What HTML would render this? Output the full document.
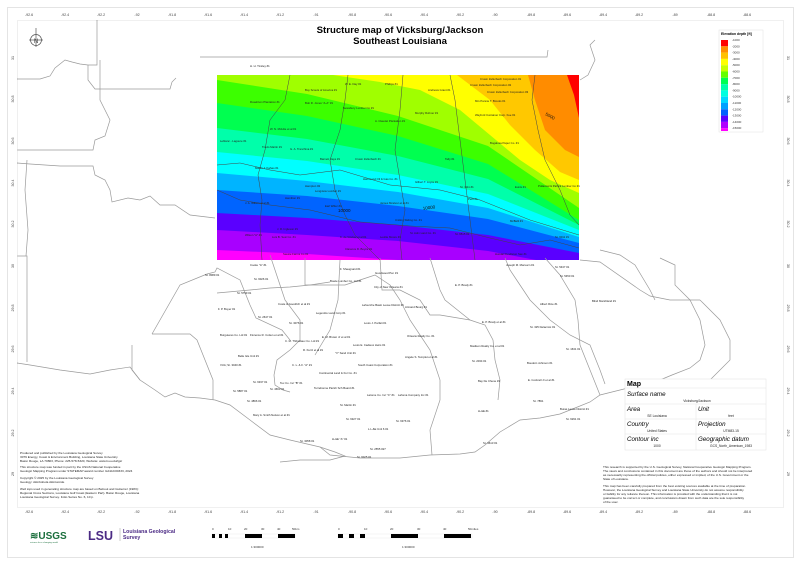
<!DOCTYPE html>
<html><head><meta charset="utf-8"><style>
html,body{margin:0;padding:0;background:#fff;}
svg text{font-family:"Liberation Sans",sans-serif;}
</style></head><body>
<svg width="800" height="565" viewBox="0 0 800 565" xmlns="http://www.w3.org/2000/svg">
<rect x="0" y="0" width="800" height="565" fill="#fff"/>
<rect x="7.5" y="7.5" width="786" height="550" fill="none" stroke="#e4e4e4" stroke-width="1"/>
<rect x="17.5" y="20.5" width="766" height="487" fill="none" stroke="#d8d8d8" stroke-width="0.8" stroke-dasharray="1,1"/>

<defs><clipPath id="cr"><rect x="217" y="75" width="362" height="185"/></clipPath></defs>
<g clip-path="url(#cr)">
<rect x="217" y="75" width="362" height="185" fill="#ff00ff"/>
<polygon fill="#a800ff" points="217,250 307,254 398,260 488,269 579,285 579,75 217,75"/>
<polygon fill="#5a00ff" points="217,230 307,235 398,241 488,251 579,268 579,75 217,75"/>
<polygon fill="#0064ff" points="217,213 307,218 398,225 488,235 579,253 579,75 217,75"/>
<polygon fill="#00b4ff" points="217,190 307,196 398,206 488,219 579,243 579,75 217,75"/>
<polygon fill="#00ffff" points="217,173 307,181 398,192 488,208 579,237 579,75 217,75"/>
<polygon fill="#00ffaa" points="217,152 307,161 398,175 488,194 579,230 579,75 217,75"/>
<polygon fill="#00ff50" points="217,128 307,139 398,156 488,179 579,225 579,75 217,75"/>
<polygon fill="#3cff00" points="217,103 307,116 398,136 488,164 579,220 579,75 217,75"/>
<polygon fill="#a0ff00" points="217,80 307,94 398,116 488,146 579,208 579,75 217,75"/>
<polygon fill="#ffff00" points="333,75 380,82 420,90 460,110 490,135 520,160 550,180 579,193 579,75"/>
<polygon fill="#ffc800" points="457,75 490,100 510,125 535,150 560,172 579,180 579,75"/>
<polygon fill="#ff8c00" points="528,75 535,100 545,130 565,150 579,157 579,75"/>
<polygon fill="#ff0000" points="567,75 574,95 579,118 579,75"/>
</g>

<g fill="none" stroke="#9a9a9a" stroke-width="0.7">
<polyline points="17,79 40,79 50,76 55,68 65,60 72,62 80,64 88,65 97,65 97,20"/>
<polyline points="88,65 88,80 95,89 170,89 172,82 176,78"/>
<polyline points="200,57 547,57 548,50"/>
<polyline points="17,163 30,164 60,166 93,166 95,175 105,180 110,190 112,202 128,198 140,200 150,196 160,205 175,205 190,215 215,218"/>
<polyline points="17,150 30,150 93,150 95,140 105,136 110,120 100,100 100,60"/>
<polyline points="27,160 25,190 28,230 26,256"/>
<polyline points="17,256 27,256 27,362"/>
<polyline points="17,363 30,365 60,370 90,374 110,370 130,367 140,380 155,390 165,397 175,393 185,397 200,398 215,400 230,405 250,420 270,435 290,440 320,447 335,452 345,456 330,460 300,460 280,462"/>
<polyline points="320,447 330,455 360,458 400,458 430,455 460,454 475,452 485,445 500,432 520,420 540,418 560,414 575,408 590,402 600,395 620,390 640,385 660,380 672,375 690,368 700,360 705,345 700,320 690,300 680,290 675,285 675,265 660,258"/>
<polyline points="217,293 250,290 270,288 290,287 310,285 330,282"/>
<polyline points="207,274 215,272 217,268 240,280 250,305 256,318 282,330 290,340"/>
<polyline points="152,334 190,334 197,340 213,380 213,400"/>
<polyline points="152,334 180,285 207,274"/>
<polyline points="132,345 132,370 140,380"/>
<polyline points="270,255 275,270 280,285 285,300 300,320 300,340 290,350 277,360 274,375 275,385 283,390 290,392"/>
<polyline points="305,258 305,285 345,285 360,280 375,275 390,285 400,300 410,320 430,350 440,380 440,400 430,430 432,455"/>
<polyline points="340,260 338,300 330,330 315,355"/>
<polyline points="380,258 382,290 400,290 420,300 430,315 440,315 470,320"/>
<polyline points="470,320 485,325 493,340 495,360 500,380 498,400"/>
<polyline points="430,258 440,290 445,300 470,320"/>
<polyline points="505,258 510,270 520,285 530,300 550,320 570,335 590,345 600,370 605,384"/>
<polyline points="545,258 560,275 575,300 578,320 580,345 590,370 600,395"/>
<polyline points="580,260 600,262 640,290 650,296 670,300 700,300"/>
<polyline points="600,250 620,255 635,265 650,290 655,300"/>
<polyline points="580,80 588,75 595,60 590,45 595,40"/>
<polyline points="700,300 720,320 730,340 730,360 720,370 710,380 700,390"/>
</g>
<g fill="none" stroke="#444" stroke-width="0.5" clip-path="url(#cr)">
<polyline points="290,75 285,100 270,120 265,150 258,175 262,200 260,225 262,260"/>
<polyline points="348,75 345,100 340,130 330,160 335,190 345,215 355,235 370,250 380,260"/>
<polyline points="403,75 400,110 395,150 400,180 405,210 400,240 402,260"/>
<polyline points="450,75 455,100 460,140 465,180 470,220 475,260"/>
<polyline points="535,75 532,100 538,130 545,160 560,190 570,215 579,225"/>
<polyline points="217,165 240,163 270,170 300,175 340,170 390,185 440,190 480,200 530,220 579,235"/>
<polyline points="217,190 240,200 270,205 310,210 360,222 410,226 450,228 490,238 520,245 550,240 579,248"/>
</g>

<text x="400" y="33" font-size="9.6" font-weight="bold" text-anchor="middle">Structure map of Vicksburg/Jackson</text>
<text x="400" y="44" font-size="9.6" font-weight="bold" text-anchor="middle">Southeast Louisiana</text>

<g stroke="#555" fill="none" stroke-width="0.7"><circle cx="36" cy="40" r="5.5"/><line x1="36" y1="28" x2="36" y2="47"/><line x1="29" y1="40" x2="43" y2="40"/></g>
<text x="36" y="43" font-size="6" text-anchor="middle" fill="#333">N</text>

<g font-size="3.6" fill="#444" text-anchor="middle">
<text x="29" y="16">-92.6</text><text x="65" y="16">-92.4</text><text x="101" y="16">-92.2</text><text x="137" y="16">-92</text><text x="172" y="16">-91.8</text><text x="208" y="16">-91.6</text><text x="244" y="16">-91.4</text><text x="280" y="16">-91.2</text><text x="316" y="16">-91</text><text x="352" y="16">-90.8</text><text x="388" y="16">-90.6</text><text x="424" y="16">-90.4</text><text x="460" y="16">-90.2</text><text x="495" y="16">-90</text><text x="531" y="16">-89.8</text><text x="567" y="16">-89.6</text><text x="603" y="16">-89.4</text><text x="639" y="16">-89.2</text><text x="675" y="16">-89</text><text x="711" y="16">-88.8</text><text x="747" y="16">-88.6</text>
<text x="29" y="513">-92.6</text><text x="65" y="513">-92.4</text><text x="101" y="513">-92.2</text><text x="137" y="513">-92</text><text x="172" y="513">-91.8</text><text x="208" y="513">-91.6</text><text x="244" y="513">-91.4</text><text x="280" y="513">-91.2</text><text x="316" y="513">-91</text><text x="352" y="513">-90.8</text><text x="388" y="513">-90.6</text><text x="424" y="513">-90.4</text><text x="460" y="513">-90.2</text><text x="495" y="513">-90</text><text x="531" y="513">-89.8</text><text x="567" y="513">-89.6</text><text x="603" y="513">-89.4</text><text x="639" y="513">-89.2</text><text x="675" y="513">-89</text><text x="711" y="513">-88.8</text><text x="747" y="513">-88.6</text>
</g>
<g font-size="3.6" fill="#444" text-anchor="middle">
<text transform="translate(14,58) rotate(-90)">31</text><text transform="translate(14,99) rotate(-90)">30.8</text><text transform="translate(14,141) rotate(-90)">30.6</text><text transform="translate(14,183) rotate(-90)">30.4</text><text transform="translate(14,224) rotate(-90)">30.2</text><text transform="translate(14,266) rotate(-90)">30</text><text transform="translate(14,308) rotate(-90)">29.8</text><text transform="translate(14,349) rotate(-90)">29.6</text><text transform="translate(14,391) rotate(-90)">29.4</text><text transform="translate(14,433) rotate(-90)">29.2</text><text transform="translate(14,474) rotate(-90)">29</text>
<text transform="translate(787,58) rotate(90)">31</text><text transform="translate(787,99) rotate(90)">30.8</text><text transform="translate(787,141) rotate(90)">30.6</text><text transform="translate(787,183) rotate(90)">30.4</text><text transform="translate(787,224) rotate(90)">30.2</text><text transform="translate(787,266) rotate(90)">30</text><text transform="translate(787,308) rotate(90)">29.8</text><text transform="translate(787,349) rotate(90)">29.6</text><text transform="translate(787,391) rotate(90)">29.4</text><text transform="translate(787,433) rotate(90)">29.2</text><text transform="translate(787,474) rotate(90)">29</text>
</g>

<g font-size="2.8" fill="#222">
<text x="250" y="67">H. H. Tinsley #1</text><text x="305" y="91">Boy Scouts of America #1</text><text x="345" y="85">W. E. Day #1</text><text x="385" y="85">Phillips #1</text><text x="480" y="80">Crown Zellerbach Corporation #1</text><text x="470" y="86">Crown Zellerbach Corporation #2</text><text x="487" y="93">Crown Zellerbach Corporation #3</text>
<text x="250" y="103">Roseblum Plantation #1</text><text x="305" y="104">Bob R. Jones "A-A" #1</text><text x="343" y="109">Newsbury Lumber Co #1</text><text x="428" y="91">Andrews Grant #1</text><text x="475" y="102">Mrs Pannie T. Brooks #1</text><text x="475" y="116">Wayford Container Corp. Fee #1</text>
<text x="375" y="122">A. Claudet Plantation #1</text><text x="415" y="114">Murphy Rohner #1</text><text x="270" y="130">W. N. McHite et al #1</text><text x="220" y="142">Leblanc - Lagoure #1</text><text x="262" y="148">Travis Martin #1</text><text x="290" y="150">G. A. Tranchina #1</text>
<text x="320" y="160">Barnett Hays #1</text><text x="355" y="160">Crown Zellerbach #1</text><text x="445" y="160">Tally #1</text><text x="490" y="144">Bogalusa Paper Co. #1</text><text x="255" y="169">Martin J. Kahao #1</text><text x="363" y="180">Hammond Oil &amp; Gas Co. #1</text><text x="415" y="183">Gilbert T. Joyce #1</text>
<text x="305" y="187">Hampton #2</text><text x="315" y="192">Longview Lumber #1</text><text x="460" y="188">St. 1111 #1</text><text x="515" y="188">Eunis #1</text><text x="538" y="187">Pollacoal &amp; Patrick Lumber Co #1</text><text x="285" y="199">Hamilton #1</text><text x="468" y="200">Peth #1</text>
<text x="245" y="204">J. A. Wilson et al #1</text><text x="325" y="207">Earl Wilier #1</text><text x="380" y="204">James Mcelver et al #1</text><text x="395" y="221">Uniting Sliding Co. #1</text><text x="510" y="222">McBelli #1</text><text x="277" y="230">J. R. Ingleson #1</text><text x="410" y="234">St. Adm Land Co. #1</text><text x="455" y="235">St. 6515 #1</text>
<text x="245" y="236">Wilson "A" #1</text><text x="272" y="238">Luis B. Sesi Co. #1</text><text x="340" y="238">K. de Vindow et al #1</text><text x="380" y="238">Leolite Moore #1</text><text x="345" y="250">Clarence D. Boyce #1</text><text x="283" y="255">Sassie Farms Co #1</text><text x="495" y="255">Hundal Pendleton Sav #1</text><text x="555" y="238">St. 6011 #1</text>
<text x="250" y="266">Cooke "A" #1</text><text x="340" y="270">F. Shaugnard #1</text><text x="375" y="274">Goodwood Par. #1</text><text x="506" y="266">Joseph M. Marsucn #1</text><text x="555" y="268">St. 5437 #1</text><text x="205" y="276">St. 8089 #1</text><text x="254" y="280">St. 6026 #1</text><text x="330" y="282">Bowie Lumber Co. Ltd #1</text><text x="374" y="288">City of New Orleans #1</text><text x="455" y="286">E. P. Brady #1</text><text x="560" y="277">St. 5450 #1</text>
<text x="237" y="294">St. 5759 #1</text><text x="278" y="305">Coste &amp; Goodrich et al #1</text><text x="362" y="306">Lafourche Basin Levee District #1</text><text x="405" y="308">Armand Bourg #1</text><text x="540" y="305">Albert Rice #1</text><text x="592" y="302">Blind Marshland #1</text><text x="218" y="310">F. P. Boyer #1</text><text x="316" y="314">Legendre Land Corp #1</text>
<text x="258" y="318">St. 2647 #1</text><text x="289" y="324">St. 3076 #1</text><text x="364" y="324">Louis J. Parfait #1</text><text x="482" y="323">E. P. Brady et al #1</text><text x="530" y="328">St. 325 Delacroix #1</text><text x="220" y="336">Burguieres Co. Ltd #1</text><text x="250" y="336">Florence R. Cotten et al #1</text><text x="322" y="338">E. M. Brown Jr et al #1</text><text x="407" y="337">Orleans Realty Co. #1</text>
<text x="285" y="342">C. M. Thibodaux Co. Ltd #1</text><text x="353" y="346">Louis E. Cadieux Heirs #1</text><text x="470" y="347">Madison Realty Co. et al #1</text><text x="566" y="350">St. 1631 #1</text><text x="303" y="351">R. Kurtz et al #1</text><text x="335" y="354">"V" Sand Unit #1</text><text x="238" y="357">Belle Isle Unit #1</text><text x="405" y="358">Angele S. Templet et al #1</text><text x="472" y="362">St. 2034 #1</text>
<text x="220" y="366">VUA; St. 3040 #1</text><text x="292" y="366">C. L. &amp; F. "A" #1</text><text x="358" y="366">South Coast Corporation #1</text><text x="527" y="364">Boudoin Johnson #1</text><text x="319" y="374">Continental Land &amp; Fur Co. #1</text><text x="478" y="382">Bay De Chene #1</text><text x="528" y="381">E. Cockrell Jr et al #1</text>
<text x="253" y="383">St. 6337 #1</text><text x="280" y="384">Tex Co. Inc "B" #1</text><text x="270" y="390">St. 4663 #1</text><text x="314" y="389">Terrebonne Parish Sch Board #1</text><text x="233" y="392">St. 5887 #1</text><text x="367" y="396">Latome Co. Inc "C" #1</text><text x="398" y="396">Lafoma Company Inc #1</text><text x="533" y="402">St. 7891</text><text x="560" y="410">Buras Levee District #1</text>
<text x="247" y="402">St. 4866 #1</text><text x="340" y="406">St. Martin #1</text><text x="478" y="412">LL&amp;E #1</text><text x="566" y="420">St. 6291 #1</text><text x="253" y="416">Mary A. Smith Nelson et al #1</text><text x="346" y="420">St. 6327 #1</text><text x="396" y="422">St. 6376 #1</text><text x="368" y="430">L.L.&amp;E Unit 6 #1</text><text x="332" y="440">LL&amp;E "A" #1</text><text x="300" y="442">St. 3058 #1</text><text x="483" y="444">St. 3613 #1</text><text x="370" y="450">St. 2555 #27</text><text x="357" y="458">St. 6025 #1</text>
</g>
<g font-size="4.5" fill="#111"><text x="423" y="210" transform="rotate(-8 423 210)">10000</text><text x="338" y="212">10000</text><text x="545" y="115" transform="rotate(30 545 115)">5000</text></g>

<rect x="719" y="30" width="44" height="102" fill="#fff" stroke="#e0e0e0" stroke-width="0.5"/>
<text x="721" y="35" font-size="3.4" font-weight="bold">Elevation depth [ft]</text>
<g>
<rect x="721" y="40" width="7" height="6.3" fill="#ff0000"/><rect x="721" y="46.3" width="7" height="6.3" fill="#ff8c00"/><rect x="721" y="52.6" width="7" height="6.3" fill="#ffc000"/><rect x="721" y="58.9" width="7" height="6.3" fill="#ffff00"/><rect x="721" y="65.2" width="7" height="6.3" fill="#c8ff00"/><rect x="721" y="71.5" width="7" height="6.3" fill="#64ff00"/><rect x="721" y="77.8" width="7" height="6.3" fill="#00ff50"/><rect x="721" y="84.1" width="7" height="6.3" fill="#00ffaa"/><rect x="721" y="90.4" width="7" height="6.3" fill="#00ffe0"/><rect x="721" y="96.7" width="7" height="6.3" fill="#00d8ff"/><rect x="721" y="103" width="7" height="6.3" fill="#00a0ff"/><rect x="721" y="109.3" width="7" height="6.3" fill="#0060ff"/><rect x="721" y="115.6" width="7" height="6.3" fill="#5a00ff"/><rect x="721" y="121.9" width="7" height="6.3" fill="#b000ff"/><rect x="721" y="128.2" width="7" height="2.8" fill="#ff00ff"/>
</g>
<g font-size="3" fill="#333">
<text x="732" y="41">-1000</text><text x="732" y="47.3">-2000</text><text x="732" y="53.6">-3000</text><text x="732" y="59.9">-4000</text><text x="732" y="66.2">-5000</text><text x="732" y="72.5">-6000</text><text x="732" y="78.8">-7000</text><text x="732" y="85.1">-8000</text><text x="732" y="91.4">-9000</text><text x="732" y="97.7">-10000</text><text x="732" y="104">-11000</text><text x="732" y="110.3">-12000</text><text x="732" y="116.6">-13000</text><text x="732" y="122.9">-14000</text><text x="732" y="129.2">-15000</text>
</g>

<rect x="625" y="379" width="141" height="71" fill="#fff" stroke="#e0e0e0" stroke-width="0.5"/>
<g stroke="#e4e4e4" stroke-width="0.5"><line x1="625" y1="388" x2="766" y2="388"/><line x1="625" y1="404" x2="766" y2="404"/><line x1="625" y1="419" x2="766" y2="419"/><line x1="625" y1="434" x2="766" y2="434"/><line x1="696" y1="404" x2="696" y2="450"/></g>
<text x="627" y="386" font-size="7" font-weight="bold">Map</text>
<g font-size="6.2" font-style="italic"><text x="627" y="396">Surface name</text><text x="627" y="411">Area</text><text x="698" y="411">Unit</text><text x="627" y="426">Country</text><text x="698" y="426">Projection</text><text x="627" y="441">Contour inc</text><text x="698" y="441">Geographic datum</text></g>
<g font-size="3.3" text-anchor="middle" fill="#222"><text x="697" y="402">Vicksburg/Jackson</text><text x="657" y="417">SE Louisiana</text><text x="731" y="417">feet</text><text x="657" y="432">United States</text><text x="731" y="432">UTM83-15</text><text x="657" y="447">1000</text><text x="731" y="447">GCS_North_American_1983</text></g>

<g font-size="3.1" fill="#222">
<text x="603" y="468">This research is supported by the U.S. Geological Survey, National Cooperative Geologic Mapping Program.</text>
<text x="603" y="472">The views and conclusions contained in this document are those of the authors and should not be interpreted</text>
<text x="603" y="476">as necessarily representing the official policies, either expressed or implied, of the U.S. Government or the</text>
<text x="603" y="480">State of Louisiana.</text>
<text x="603" y="487">This map has been carefully prepared from the best existing sources available at the time of preparation.</text>
<text x="603" y="491">However, the Louisiana Geological Survey and Louisiana State University do not assume responsibility</text>
<text x="603" y="495">or liability for any reliance thereon. This information is provided with the understanding that it is not</text>
<text x="603" y="499">guaranteed to be correct or complete, and conclusions drawn from such data are the sole responsibility</text>
<text x="603" y="503">of the user.</text>
<text x="20" y="454">Produced and published by the Louisiana Geological Survey</text>
<text x="20" y="458">3079 Energy, Coast &amp; Environment Building, Louisiana State University</text>
<text x="20" y="462">Baton Rouge, LA 70803, Phone: 225-578-5320, Website: www.lsu.edu/lgs/</text>
<text x="20" y="468">This structure map was funded in part by the USGS National Cooperative</text>
<text x="20" y="472">Geologic Mapping Program under STATEMAP award number G24AC00333, 2024</text>
<text x="20" y="479">Copyright © 2025 by the Louisiana Geological Survey</text>
<text x="20" y="483">Geology: Akinbobola Akintomide</text>
<text x="20" y="490">Well tops used in generating structure map are based on Bebout and Gutierrez (1983):</text>
<text x="20" y="494">Regional Cross Sections, Louisiana Gulf Coast (Eastern Part). Baton Rouge, Louisiana</text>
<text x="20" y="498">Louisiana Geological Survey. Folio Series No. 6, 10 p.</text>
</g>

<text x="30" y="539" font-size="10" font-weight="bold" fill="#1a6e3c">≋USGS</text>
<text x="30" y="543" font-size="2.2" fill="#1a6e3c">science for a changing world</text>
<text x="88" y="540" font-size="12.5" font-weight="bold" fill="#4b2a84">LSU</text>
<line x1="120" y1="528" x2="120" y2="541" stroke="#999" stroke-width="0.5"/>
<text x="123" y="533" font-size="5.2" font-weight="bold" fill="#4b2a84">Louisiana Geological</text>
<text x="123" y="539" font-size="5.2" font-weight="bold" fill="#4b2a84">Survey</text>

<g font-size="3" fill="#333"><text x="212" y="530">0</text><text x="228" y="530">10</text><text x="244" y="530">20</text><text x="261" y="530">30</text><text x="277" y="530">40</text><text x="292" y="530">50km</text><text x="251" y="548">1:300000</text>
<text x="338" y="530">0</text><text x="364" y="530">10</text><text x="390" y="530">20</text><text x="417" y="530">30</text><text x="443" y="530">40</text><text x="468" y="530">50miles</text><text x="402" y="548">1:300000</text></g>
<rect x="212" y="534" width="83" height="4" fill="#fff" stroke="#ddd" stroke-width="0.3"/>
<g fill="#000"><rect x="212" y="534" width="3" height="4"/><rect x="219" y="534" width="3" height="4"/><rect x="225" y="534" width="3" height="4"/><rect x="245" y="534" width="17" height="4"/><rect x="278" y="534" width="17" height="4"/></g>
<rect x="338" y="534" width="134" height="4" fill="#fff" stroke="#ddd" stroke-width="0.3"/>
<g fill="#000"><rect x="338" y="534" width="5" height="4"/><rect x="349" y="534" width="5" height="4"/><rect x="360" y="534" width="5" height="4"/><rect x="391" y="534" width="27" height="4"/><rect x="444" y="534" width="27" height="4"/></g>
</svg>
</body></html>
